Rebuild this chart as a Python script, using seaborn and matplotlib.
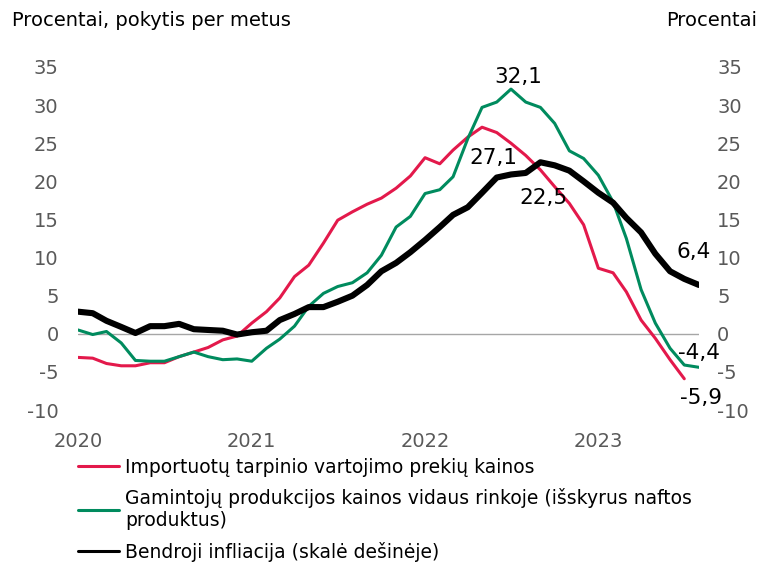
import pandas as pd
import matplotlib
import matplotlib.pyplot as plt
import seaborn as sns

matplotlib.use("Agg")

# ---- data ----
months = pd.date_range("2020-01-01", "2023-08-01", freq="MS")
year_ticks = pd.to_datetime(["2020-01-01", "2021-01-01", "2022-01-01", "2023-01-01"])
year_labels = ["2020", "2021", "2022", "2023"]

import_prices = [
    -3.1, -3.2, -3.9, -4.2, -4.2, -3.8, -3.8, -3.0, -2.4, -1.8,
    -0.8, -0.3, 1.4, 2.9, 4.7, 7.5, 9.0, 11.9, 14.9, 16.0,
    17.0, 17.8, 19.1, 20.7, 23.1, 22.3, 24.1, 25.8, 27.1, 26.4,
    25.0, 23.4, 21.5, 19.3, 17.1, 14.3, 8.6, 8.0, 5.5, 1.8,
    -0.6, -3.4, -5.9,
]
producer_prices = [
    0.5, -0.1, 0.3, -1.2, -3.5, -3.6, -3.6, -3.0, -2.4, -3.0,
    -3.4, -3.3, -3.6, -1.9, -0.7, 1.0, 3.6, 5.3, 6.2, 6.7,
    8.0, 10.3, 14.0, 15.4, 18.4, 18.9, 20.6, 25.6, 29.7, 30.4,
    32.1, 30.4, 29.7, 27.6, 24.0, 23.0, 20.8, 17.3, 12.5, 5.8,
    1.4, -1.9, -4.1, -4.4,
]
inflation = [
    2.9, 2.7, 1.7, 0.9, 0.1, 1.0, 1.0, 1.3, 0.6, 0.5,
    0.4, -0.1, 0.2, 0.4, 1.8, 2.6, 3.5, 3.5, 4.2, 5.0,
    6.4, 8.2, 9.3, 10.7, 12.3, 14.0, 15.6, 16.6, 18.5, 20.5,
    20.9, 21.1, 22.5, 22.1, 21.4, 20.0, 18.5, 17.2, 15.2, 13.3,
    10.5, 8.2, 7.2, 6.4,
]

labels = [
    "Importuotų tarpinio vartojimo prekių kainos",
    "Gamintojų produkcijos kainos vidaus rinkoje (išskyrus naftos\nproduktus)",
    "Bendroji infliacija (skalė dešinėje)",
]
colors = ["#e3194b", "#008b5e", "#000000"]
y_ticks = list(range(-10, 40, 5))

# ---- style ----
sns.set_theme(style="white")
plt.rcParams["font.family"] = ["DejaVu Sans"]
plt.rcParams["axes.unicode_minus"] = False

fig = plt.figure(figsize=(7.62, 5.65), dpi=100)
ax = fig.add_axes([78 / 762, 1 - 410 / 565, 621 / 762, 343 / 565])
ax2 = ax.twinx()

ax.axhline(0, color="#a6a6a6", linewidth=1.0, zorder=1)

sns.lineplot(x=months[:len(import_prices)], y=import_prices, ax=ax,
             color=colors[0], linewidth=2.2, label=labels[0], legend=False)
sns.lineplot(x=months, y=producer_prices, ax=ax,
             color=colors[1], linewidth=2.2, label=labels[1], legend=False)
sns.lineplot(x=months, y=inflation, ax=ax2,
             color=colors[2], linewidth=4.4, label=labels[2], legend=False)

for a in (ax, ax2):
    a.set_ylim(-10, 35)
    a.set_yticks(y_ticks)
    a.set_yticklabels([str(t) for t in y_ticks])
    a.set_xlim(months[0], months[-1])
    a.set_xlabel("")
    a.set_ylabel("")
    a.grid(False)
    for s in a.spines.values():
        s.set_visible(False)
    a.tick_params(length=0, labelsize=14, labelcolor="#595959")

ax.set_xticks(year_ticks)
ax.set_xticklabels(year_labels)
ax.tick_params(axis="x", pad=16)
ax.tick_params(axis="y", pad=14)
ax2.tick_params(axis="y", pad=13)


def fmt(v):
    return f"{v:.1f}".replace(".", ",")


# ---- value labels ----
notes = [
    (ax, producer_prices, producer_prices.index(max(producer_prices)), (5, 9)),
    (ax, import_prices, import_prices.index(max(import_prices)), (8, -22)),
    (ax2, inflation, inflation.index(max(inflation)), (2, -26)),
    (ax2, inflation, len(inflation) - 1, (-4, 24)),
    (ax, producer_prices, len(producer_prices) - 1, (0, 10)),
    (ax, import_prices, len(import_prices) - 1, (12, -14)),
]
for a, series, i, off in notes:
    a.annotate(fmt(series[i]), xy=(months[i], series[i]), xytext=off,
               textcoords="offset points", ha="center", va="center",
               fontsize=15.5, color="black", zorder=5)

# ---- titles ----
fig.text(12 / 762, 1 - 21 / 565, "Procentai, pokytis per metus",
         ha="left", va="center", fontsize=14, color="black")
fig.text(757 / 762, 1 - 21 / 565, "Procentai",
         ha="right", va="center", fontsize=14, color="black")

# ---- legend ----
h1, l1 = ax.get_legend_handles_labels()
h2, l2 = ax2.get_legend_handles_labels()
leg = fig.legend(h1 + h2, l1 + l2, loc="upper left",
                 bbox_to_anchor=(78 / 762, 1 - 458 / 565),
                 frameon=False, borderpad=0, borderaxespad=0,
                 handlelength=2.2, handletextpad=0.3, labelspacing=0.6,
                 fontsize=13.5, labelcolor="black")
for line in leg.get_lines():
    line.set_linewidth(2.2)

fig.savefig("out.png", dpi=100)
